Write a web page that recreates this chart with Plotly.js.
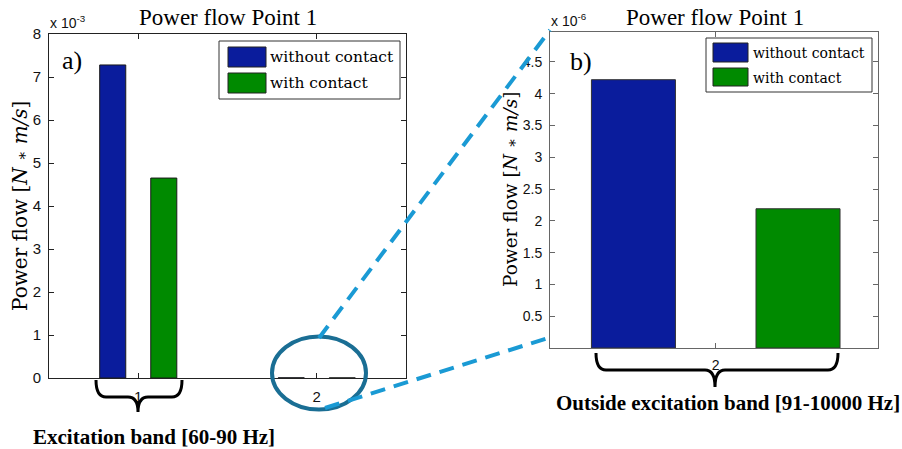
<!DOCTYPE html>
<html>
<head>
<meta charset="utf-8">
<script src="https://cdn.plot.ly/plotly-3.0.1.min.js"></script>
<style>html,body{margin:0;padding:0;background:#fff;}#chart{width:902px;height:449px;}</style>
</head>
<body>
<div id="chart"></div>
<script>
// ---- data ----
const categories = [1, 2];
const seriesNames = ['without contact', 'with contact'];
const withoutContact = [7.28e-3, 4.22e-6];   // N*m/s
const withContact = [4.65e-3, 2.19e-6];      // N*m/s
const leftTicks = [0, 1, 2, 3, 4, 5, 6, 7, 8];
const rightTicks = [0.5, 1, 1.5, 2, 2.5, 3, 3.5, 4, 4.5];
const leftScale = 1e-3, rightScale = 1e-6;
const panelTitle = 'Power flow Point 1';
const yTitle = 'Power flow [<i>N</i> <span style="font-size:15px">∗</span> <i>m/s</i>]';
const bandLabels = ['Excitation band [60-90 Hz]', 'Outside excitation band [91-10000 Hz]'];

// ---- layout helpers (pixel -> paper) ----
const W = 902, H = 449;
const X = p => p / W, Y = p => 1 - p / H;
const colors = ['#0a1c9c', '#008a00'];
const barW = 0.146, offs = [-0.216, 0.070];
const serif = 'Liberation Serif';
const cmr = 'DejaVu Serif';
const sans = 'Liberation Sans';

const rightIdx = 1;
const traces = [
  {type: 'bar', name: seriesNames[0], x: categories, y: withoutContact.map(v => v / leftScale),
   width: barW, offset: offs[0], xaxis: 'x', yaxis: 'y',
   marker: {color: colors[0], line: {color: '#1a1a1a', width: 1}}},
  {type: 'bar', name: seriesNames[1], x: categories, y: withContact.map(v => v / leftScale),
   width: barW, offset: offs[1], xaxis: 'x', yaxis: 'y',
   marker: {color: colors[1], line: {color: '#1a1a1a', width: 1}}},
  {type: 'bar', name: seriesNames[0], x: [categories[rightIdx]], y: [withoutContact[rightIdx] / rightScale],
   width: barW, offset: offs[0], xaxis: 'x2', yaxis: 'y2',
   marker: {color: colors[0], line: {color: '#333', width: 1}}},
  {type: 'bar', name: seriesNames[1], x: [categories[rightIdx]], y: [withContact[rightIdx] / rightScale],
   width: barW, offset: offs[1], xaxis: 'x2', yaxis: 'y2',
   marker: {color: colors[1], line: {color: '#333', width: 1}}}
];

function axisBase(color, size) {
  return {showline: true, linecolor: color, linewidth: 1, mirror: 'ticks', ticks: 'inside',
          ticklen: 5, tickcolor: color, showgrid: false, zeroline: false, fixedrange: true,
          tickfont: {family: sans, size: size, color: '#111'}};
}

function brace(x0, x1, xc, yTop, yMid, yTip) {
  const r = 10;
  const p = (x, y) => X(x) + ',' + Y(y);
  return 'M' + p(x0, yTop) + ' Q' + p(x0, yMid) + ' ' + p(x0 + r, yMid) +
         ' L' + p(xc - r, yMid) + ' Q' + p(xc, yMid) + ' ' + p(xc, yTip) +
         ' Q' + p(xc, yMid) + ' ' + p(xc + r, yMid) +
         ' L' + p(x1 - r, yMid) + ' Q' + p(x1, yMid) + ' ' + p(x1, yTop);
}

function rect(x0, y0, x1, y1, fill, line) {
  return {type: 'rect', xref: 'paper', yref: 'paper', x0: X(x0), x1: X(x1), y0: Y(y1), y1: Y(y0),
          fillcolor: fill, line: {color: line, width: 1}};
}

function ann(text, x, y, opts) {
  return Object.assign({text: text, x: X(x), y: Y(y), xref: 'paper', yref: 'paper',
    showarrow: false, xanchor: 'center', yanchor: 'middle',
    font: {family: serif, size: 20, color: '#000'}}, opts || {});
}

const shapes = [
  // legends
  rect(219, 41, 400, 99, '#fff', '#333'),
  rect(228, 47, 266, 67, colors[0], '#222'),
  rect(228, 73, 266, 93, colors[1], '#222'),
  rect(706, 38, 872, 92, '#fff', '#333'),
  rect(713, 43, 748, 62, colors[0], '#222'),
  rect(713, 68, 748, 86, colors[1], '#222'),
  // braces
  {type: 'path', xref: 'paper', yref: 'paper', path: brace(96, 182, 138, 380, 397, 412), line: {color: '#000', width: 3}},
  {type: 'path', xref: 'paper', yref: 'paper', path: brace(596, 838, 715, 353, 370, 387), line: {color: '#000', width: 3}},
  // zoom ellipse and dashed connectors
  {type: 'circle', xref: 'paper', yref: 'paper', x0: X(272), x1: X(366), y0: Y(409.5), y1: Y(336.5),
   line: {color: '#1a6e94', width: 4}},
  {type: 'line', xref: 'paper', yref: 'paper', x0: X(319), y0: Y(338), x1: X(550), y1: Y(30),
   line: {color: '#1a9ad4', width: 4, dash: '15px,9px'}},
  {type: 'line', xref: 'paper', yref: 'paper', x0: X(325), y0: Y(408), x1: X(548), y1: Y(338),
   line: {color: '#1a9ad4', width: 4, dash: '15px,9px'}}
];

const annotations = [
  ann(panelTitle, 228, 18, {font: {family: serif, size: 23, color: '#000'}}),
  ann(panelTitle, 715, 18, {font: {family: serif, size: 23, color: '#000'}}),
  ann('a)', 72, 60, {font: {family: serif, size: 26, color: '#000'}}),
  ann('b)', 581, 61, {font: {family: serif, size: 26, color: '#000'}}),
  ann('x 10<sup>-3</sup>', 48, 22, {xanchor: 'left', font: {family: sans, size: 14, color: '#111'}}),
  ann('x 10<sup>-6</sup>', 549, 20, {xanchor: 'left', font: {family: sans, size: 14, color: '#111'}}),
  ann(yTitle, 20, 206, {textangle: -90, font: {family: cmr, size: 20, color: '#000'}}),
  ann(yTitle, 510, 190, {textangle: -90, font: {family: cmr, size: 18.5, color: '#000'}}),
  ann(seriesNames[0], 268, 57, {xanchor: 'left', font: {family: cmr, size: 15.5, color: '#000'}}),
  ann(seriesNames[1], 268, 83, {xanchor: 'left', font: {family: cmr, size: 15.5, color: '#000'}}),
  ann(seriesNames[0], 751, 53, {xanchor: 'left', font: {family: cmr, size: 14, color: '#000'}}),
  ann(seriesNames[1], 751, 78, {xanchor: 'left', font: {family: cmr, size: 14, color: '#000'}}),
  ann('<b>' + bandLabels[0] + '</b>', 153.5, 437, {font: {family: serif, size: 21, color: '#000'}}),
  ann('<b>' + bandLabels[1] + '</b>', 728, 403, {font: {family: serif, size: 21, color: '#000'}})
];

const layout = {
  width: W, height: H, margin: {l: 0, r: 0, t: 0, b: 0},
  paper_bgcolor: '#fff', plot_bgcolor: '#fff', showlegend: false, barmode: 'overlay',
  xaxis: Object.assign(axisBase('#222', 15), {domain: [X(49), X(406)], range: [0.5, 2.5],
    tickvals: categories, ticktext: categories.map(String), anchor: 'y', ticklabelstandoff: 5}),
  yaxis: Object.assign(axisBase('#222', 15), {domain: [Y(378), Y(34)], range: [0, 8],
    tickvals: leftTicks, ticktext: leftTicks.map(String), anchor: 'x', ticklabelstandoff: 4}),
  xaxis2: Object.assign(axisBase('#666', 14), {domain: [X(550), X(878)], range: [1.712, 2.282],
    tickvals: [categories[rightIdx]], ticktext: [String(categories[rightIdx])], anchor: 'y2', ticklabelstandoff: 4}),
  yaxis2: Object.assign(axisBase('#666', 14), {domain: [Y(348), Y(32)], range: [0, 4.97],
    tickvals: rightTicks, ticktext: rightTicks.map(String), anchor: 'x2', ticklabelstandoff: 4}),
  shapes: shapes,
  annotations: annotations
};

Plotly.newPlot('chart', traces, layout, {displayModeBar: false, staticPlot: true});
</script>
</body>
</html>
